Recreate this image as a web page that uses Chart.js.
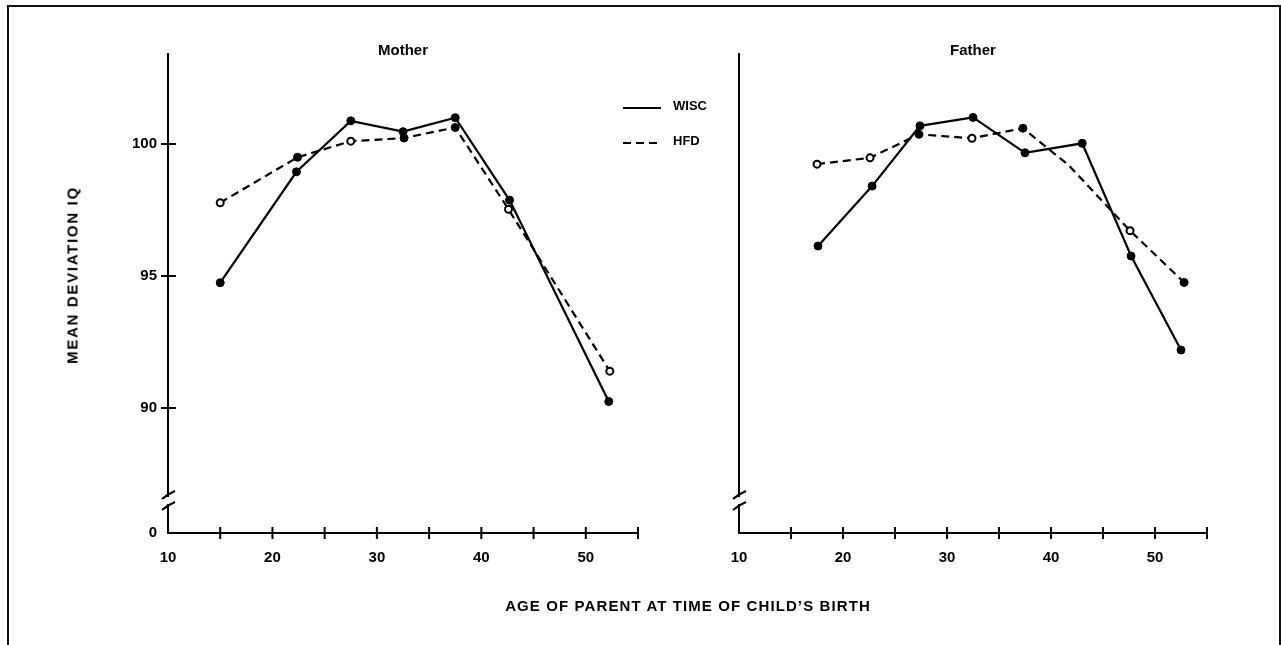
<!DOCTYPE html>
<html>
<head>
<meta charset="utf-8">
<title>Mean deviation IQ by age of parent</title>
<script src="https://cdn.jsdelivr.net/npm/chart.js@4.4.1/dist/chart.umd.min.js"></script>
<style>
  html, body { margin: 0; padding: 0; background: #fff; }
  body { width: 1281px; height: 645px; position: relative; overflow: hidden; font-family: 'Liberation Sans', Arial, sans-serif; color: #000; }
  #frame { position: absolute; left: 7px; top: 5px; width: 1270px; height: 700px; border: 2px solid #111; border-bottom: none; }
  #leftBox { position: absolute; left: 0; top: 0; width: 720px; height: 645px; }
  #rightBox { position: absolute; left: 720px; top: 0; width: 561px; height: 645px; }
  .ytitle { position: absolute; left: 72px; top: 275px; transform: translate(-50%, -50%) rotate(-90deg); font-size: 15px; font-weight: bold; letter-spacing: 1.7px; white-space: nowrap; }
  .xtitle { position: absolute; left: 688px; top: 605px; transform: translate(-50%, -50%); font-size: 15px; font-weight: bold; letter-spacing: 1.1px; white-space: nowrap; }
</style>
</head>
<body>
<div id="frame"></div>
<div id="leftBox"><canvas id="motherChart" width="720" height="645"></canvas></div>
<div id="rightBox"><canvas id="fatherChart" width="561" height="645"></canvas></div>
<div class="ytitle">MEAN DEVIATION IQ</div>
<div class="xtitle">AGE OF PARENT AT TIME OF CHILD’S BIRTH</div>
<script>
  /* Data */
  var seriesNames = ['WISC', 'HFD'];

  var motherWiscAge = [15, 22.3, 27.5, 32.5, 37.5, 42.7, 52.2];
  var motherWisc    = [94.75, 98.95, 100.88, 100.47, 101.0, 97.88, 90.25];
  var motherHfdAge  = [15, 22.4, 27.5, 32.6, 37.5, 42.6, 52.3];
  var motherHfd     = [97.78, 99.5, 100.11, 100.23, 100.63, 97.53, 91.4];

  var fatherWiscAge = [17.6, 22.8, 27.4, 32.5, 37.5, 43.0, 47.7, 52.5];
  var fatherWisc    = [96.14, 98.41, 100.69, 101.01, 99.67, 100.03, 95.76, 92.2];
  var fatherHfdAge  = [17.5, 22.6, 27.3, 32.4, 37.3, 41.7, 47.6, 52.8];
  var fatherHfd     = [99.24, 99.48, 100.37, 100.22, 100.6, 99.2, 96.72, 94.76];

  // marker kind per HFD point: 'o' open, 'f' filled, '' none
  var motherHfdMarks = ['o', 'f', 'o', 'f', 'f', 'o', 'o'];
  var fatherHfdMarks = ['o', 'o', 'f', 'o', 'f', '', 'o', 'f'];

  var xTicks      = [10, 15, 20, 25, 30, 35, 40, 45, 50, 55];
  var xTickLabels = ['10', '', '20', '', '30', '', '40', '', '50', ''];
  var yTicks      = [90, 95, 100];
  var yBreakLabel = '0';
  var yMin = 85.27, yMax = 103.45;

  var INK = '#000';
  var FONT = "'Liberation Sans', Arial, sans-serif";

  function points(ages, vals) {
    return ages.map(function (a, i) { return { x: a, y: vals[i] }; });
  }

  /* Axes drawn by hand: crossing ticks and the broken y axis */
  var axesPlugin = {
    id: 'axesDraw',
    afterDraw: function (chart) {
      var ctx = chart.ctx, a = chart.chartArea;
      var xs = chart.scales.x, ys = chart.scales.y;
      ctx.save();
      ctx.strokeStyle = INK;
      ctx.lineWidth = 2;
      ctx.lineCap = 'butt';
      // y axis with break
      var gapTop = a.bottom - 38, gapBot = a.bottom - 27;
      ctx.beginPath();
      ctx.moveTo(a.left, a.top);
      ctx.lineTo(a.left, gapTop + 2);
      ctx.moveTo(a.left, gapBot - 2);
      ctx.lineTo(a.left, a.bottom);
      ctx.lineTo(a.right, a.bottom);
      ctx.stroke();
      // break strokes
      [gapTop, gapBot].forEach(function (gy) {
        ctx.beginPath();
        ctx.moveTo(a.left - 6, gy + 4);
        ctx.quadraticCurveTo(a.left, gy - 1, a.left + 7, gy - 4);
        ctx.stroke();
      });
      // x ticks crossing the axis
      ctx.beginPath();
      xTicks.forEach(function (v) {
        if (v === xs.min) return;
        var px = xs.getPixelForValue(v);
        ctx.moveTo(px, a.bottom - 6);
        ctx.lineTo(px, a.bottom + 6);
      });
      // y ticks on the first panel only
      if (chart.options.plugins.axesDraw.yTicks) {
        yTicks.forEach(function (v) {
          var py = ys.getPixelForValue(v);
          ctx.moveTo(a.left - 7, py);
          ctx.lineTo(a.left + 8, py);
        });
      }
      ctx.stroke();
      // panel title
      ctx.fillStyle = INK;
      ctx.font = 'bold 15px ' + FONT;
      ctx.textAlign = 'center';
      ctx.textBaseline = 'middle';
      ctx.fillText(chart.options.plugins.axesDraw.title, (a.left + a.right) / 2, 51);
      ctx.restore();
    }
  };

  /* Legend drawn inside the first panel */
  var legendPlugin = {
    id: 'lineLegend',
    afterDraw: function (chart) {
      var opts = chart.options.plugins.lineLegend;
      if (!opts.show) return;
      var ctx = chart.ctx;
      ctx.save();
      chart.data.datasets.forEach(function (ds, i) {
        var y = 108 + i * 35;
        ctx.strokeStyle = INK;
        ctx.lineWidth = 2;
        ctx.setLineDash(ds.borderDash || []);
        ctx.beginPath();
        ctx.moveTo(623, y);
        ctx.lineTo(661, y);
        ctx.stroke();
        ctx.setLineDash([]);
        ctx.fillStyle = INK;
        ctx.font = 'bold 13px ' + FONT;
        ctx.textAlign = 'left';
        ctx.textBaseline = 'middle';
        ctx.fillText(ds.label, 673, y - 2);
      });
      ctx.restore();
    }
  };

  function markStyle(marks) {
    return {
      bg: marks.map(function (m) { return m === 'o' ? '#fff' : INK; }),
      r: marks.map(function (m) { return m === '' ? 0 : (m === 'o' ? 3.5 : 4); }),
      bw: marks.map(function (m) { return m === 'o' ? 2 : 1; })
    };
  }

  function makePanel(id, title, wAge, wVal, hAge, hVal, hMarks, first) {
    var hm = markStyle(hMarks);
    return new Chart(document.getElementById(id).getContext('2d'), {
      type: 'line',
      data: {
        datasets: [{
          label: seriesNames[0],
          data: points(wAge, wVal),
          borderColor: INK,
          borderWidth: 2.2,
          pointRadius: 4,
          pointBackgroundColor: INK,
          pointBorderColor: INK,
          pointBorderWidth: 1,
          tension: 0,
          fill: false
        }, {
          label: seriesNames[1],
          data: points(hAge, hVal),
          borderColor: INK,
          borderWidth: 2.2,
          borderDash: [8, 5],
          pointRadius: hm.r,
          pointBackgroundColor: hm.bg,
          pointBorderColor: INK,
          pointBorderWidth: hm.bw,
          tension: 0,
          fill: false
        }]
      },
      options: {
        responsive: false,
        animation: false,
        events: [],
        layout: {
          padding: first ? { left: 108, right: 82, top: 53, bottom: 0 }
                         : { left: 19, right: 74, top: 53, bottom: 0 }
        },
        scales: {
          x: {
            type: 'linear',
            min: 10,
            max: 55,
            afterBuildTicks: function (s) { s.ticks = xTicks.map(function (v) { return { value: v }; }); },
            afterFit: function (s) { s.height = 112; },
            grid: { display: false },
            border: { display: false },
            ticks: {
              autoSkip: false,
              maxRotation: 0,
              padding: 8,
              color: INK,
              font: { family: FONT, size: 15, weight: 'bold' },
              callback: function (v) { return xTickLabels[xTicks.indexOf(v)]; }
            }
          },
          y: {
            type: 'linear',
            min: yMin,
            max: yMax,
            afterBuildTicks: function (s) {
              s.ticks = [{ value: yMin }].concat(yTicks.map(function (v) { return { value: v }; }));
            },
            afterFit: function (s) { s.width = first ? 60 : 0; },
            grid: { display: false },
            border: { display: false },
            ticks: {
              display: first,
              padding: 3,
              color: INK,
              font: { family: FONT, size: 15, weight: 'bold' },
              callback: function (v) { return v === yMin ? yBreakLabel : v; }
            }
          }
        },
        plugins: {
          legend: { display: false },
          tooltip: { enabled: false },
          axesDraw: { title: title, yTicks: first },
          lineLegend: { show: first }
        }
      },
      plugins: [axesPlugin, legendPlugin]
    });
  }

  makePanel('motherChart', 'Mother', motherWiscAge, motherWisc, motherHfdAge, motherHfd, motherHfdMarks, true);
  makePanel('fatherChart', 'Father', fatherWiscAge, fatherWisc, fatherHfdAge, fatherHfd, fatherHfdMarks, false);
</script>
</body>
</html>
